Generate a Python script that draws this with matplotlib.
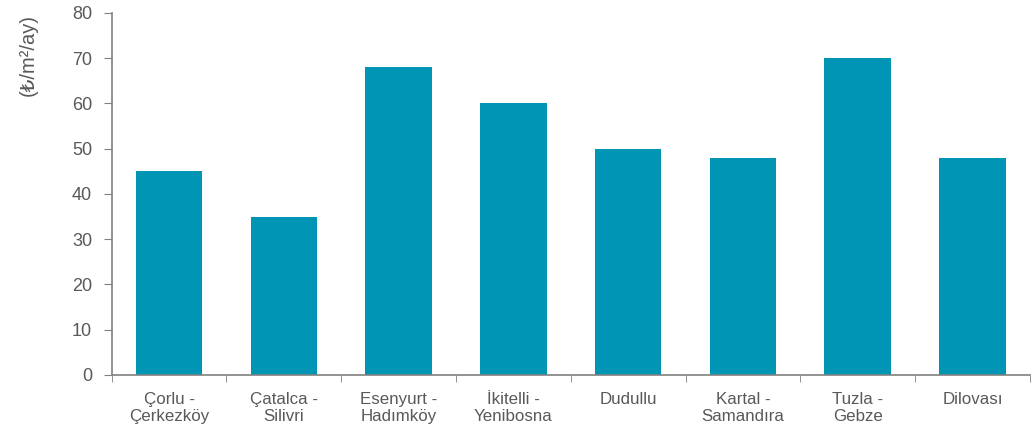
import numpy as np
import matplotlib.pyplot as plt

categories = ["Çorlu -\nÇerkezköy", "Çatalca -\nSilivri", "Esenyurt -\nHadımköy",
              "İkitelli -\nYenibosna", "Dudullu", "Kartal -\nSamandıra",
              "Tuzla -\nGebze", "Dilovası"]
rents = [45, 35, 68, 60, 50, 48, 70, 48]
y_ticks = [0, 10, 20, 30, 40, 50, 60, 70, 80]

plt.rcParams['font.family'] = ['Liberation Sans', 'DejaVu Sans']
bar_color = '#0095B4'
text_color = '#595959'
axis_color = '#808080'

fig = plt.figure(figsize=(10.34, 4.32), dpi=100)
ax = fig.add_axes([0.108, 0.132, 0.888, 0.838])

x = np.arange(len(categories))
ax.bar(x, rents, width=0.58, color=bar_color)

ax.set_xlim(-0.5, len(categories) - 0.5)
ax.set_ylim(0, 80)
ax.set_yticks(y_ticks)
ax.set_xticks(x)
ax.set_xticklabels(categories, fontsize=12.2, color=text_color, linespacing=1.2)
ax.set_xticks(np.arange(len(categories) + 1) - 0.5, minor=True)
ax.tick_params(axis='x', which='major', length=0, pad=12)
ax.tick_params(axis='x', which='minor', length=5, color=axis_color, direction='out')
ax.tick_params(axis='y', length=6, color=axis_color, labelsize=13, labelcolor=text_color, pad=8)

for side in ['top', 'right']:
    ax.spines[side].set_visible(False)
for side in ['left', 'bottom']:
    ax.spines[side].set_color(axis_color)
    ax.spines[side].set_linewidth(1.2)

ax.set_ylabel('(₺/m²/ay)', fontsize=14.5, color=text_color)
ax.yaxis.set_label_coords(-0.080, 0.884)

fig.savefig('out.png', dpi=100)
